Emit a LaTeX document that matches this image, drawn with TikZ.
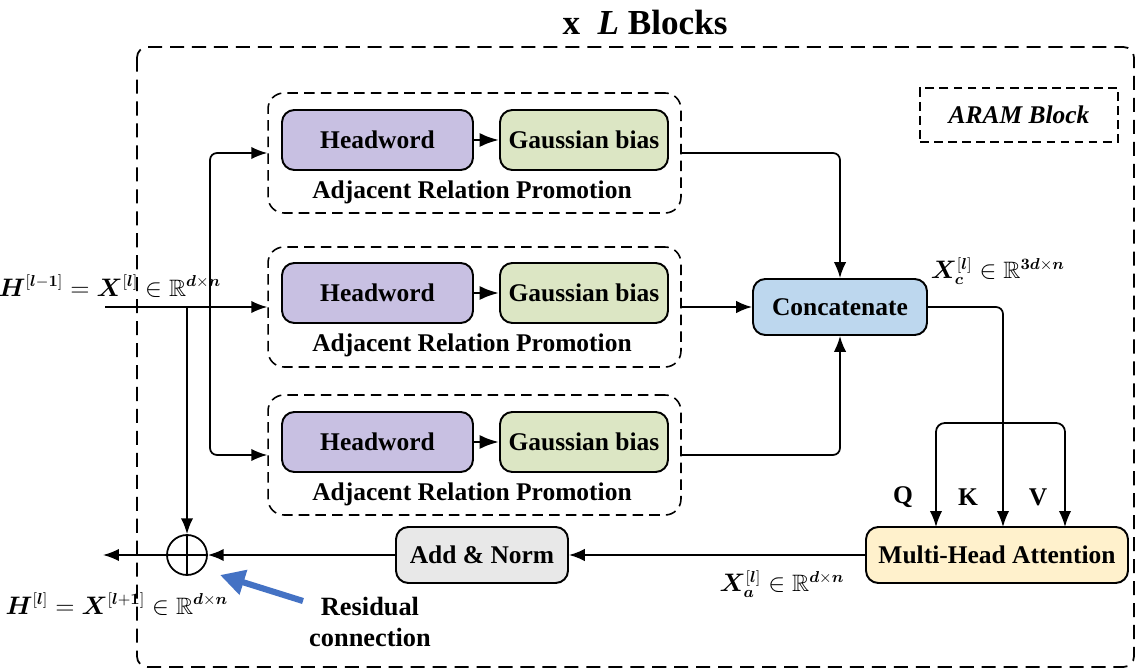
\documentclass[tikz,border=0pt]{standalone}
\usepackage{amsmath,amssymb,bm}
\usepackage{fontspec}
\setmainfont{Liberation Serif}
\usetikzlibrary{arrows.meta}

\definecolor{headcol}{RGB}{200,192,226}
\definecolor{gausscol}{RGB}{220,230,196}
\definecolor{catcol}{RGB}{189,215,238}
\definecolor{mhacol}{RGB}{255,241,204}
\definecolor{addcol}{RGB}{232,232,232}
\definecolor{rescol}{RGB}{68,114,196}

\tikzset{
  box/.style={draw, line width=1.1pt, rounded corners=7pt, align=center,
    minimum height=1.2cm, font=\fontsize{14.5}{17}\selectfont\bfseries},
  arpbox/.style={draw, dashed, dash pattern=on 6pt off 3.5pt, line width=0.9pt,
    rounded corners=9pt, minimum width=8.26cm, minimum height=2.4cm},
  lbl/.style={font=\fontsize{14.5}{17}\selectfont\bfseries},
  mlbl/.style={font=\fontsize{13.5}{15}\selectfont},
  arr/.style={-{Latex[length=9pt,width=7pt]}, line width=1pt},
  wire/.style={line width=1pt}
}

\begin{document}
\begin{tikzpicture}[x=0.02cm, y=-0.02cm]

\useasboundingbox (0,0) rectangle (1137,672);

% Outer frame and title
\draw[dashed, dash pattern=on 8pt off 4.5pt, line width=1pt, rounded corners=6pt]
  (137,47) rectangle (1134,667);
\node[font=\fontsize{20}{24}\selectfont\bfseries] (title) at (645,22) {x\ \ \textit{L} Blocks};
\node[draw, dashed, dash pattern=on 5pt off 3pt, line width=1pt, minimum width=3.96cm,
  minimum height=1.08cm, font=\fontsize{14.5}{17}\selectfont\bfseries\itshape]
  (aram) at (1019,115) {ARAM Block};

%========================
% Adjacent Relation Promotion 1
%========================
\node[arpbox] (arp1) at (474.5,153) {};
\node[box, fill=headcol, minimum width=3.82cm] (head1) at (377.5,140) {Headword};
\node[box, fill=gausscol, minimum width=3.36cm] (gauss1) at (584,140) {Gaussian bias};
\node[lbl] (lab1) at (472,192) {Adjacent Relation Promotion};
\draw[-{Latex[length=11pt,width=8pt]}, line width=1.6pt] (head1)--(gauss1);

%========================
% Adjacent Relation Promotion 2
%========================
\node[arpbox] (arp2) at (474.5,307) {};
\node[box, fill=headcol, minimum width=3.82cm] (head2) at (377.5,293) {Headword};
\node[box, fill=gausscol, minimum width=3.36cm] (gauss2) at (584,293) {Gaussian bias};
\node[lbl] (lab2) at (472,345) {Adjacent Relation Promotion};
\draw[-{Latex[length=11pt,width=8pt]}, line width=1.6pt] (head2)--(gauss2);

%========================
% Adjacent Relation Promotion 3
%========================
\node[arpbox] (arp3) at (474.5,455) {};
\node[box, fill=headcol, minimum width=3.82cm] (head3) at (377.5,442) {Headword};
\node[box, fill=gausscol, minimum width=3.36cm] (gauss3) at (584,442) {Gaussian bias};
\node[lbl] (lab3) at (472,494) {Adjacent Relation Promotion};
\draw[-{Latex[length=11pt,width=8pt]}, line width=1.6pt] (head3)--(gauss3);

%========================
% Concatenate and attention
%========================
\node[box, fill=catcol, minimum width=3.48cm, minimum height=1.12cm] (cat) at (840,307) {Concatenate};
\node[box, fill=mhacol, minimum width=5.24cm, minimum height=1.12cm] (mha) at (997,555) {Multi-Head Attention};
\node[box, fill=addcol, minimum width=3.44cm, minimum height=1.12cm] (add) at (482,555) {Add \& Norm};
\node[draw, circle, line width=1pt, minimum size=0.8cm, inner sep=0pt,
  path picture={\draw[line width=1pt] (path picture bounding box.north) -- (path picture bounding box.south)
    (path picture bounding box.west) -- (path picture bounding box.east);}] (plus) at (187,555) {};

% QKV inputs
\coordinate (qin) at (936,527);
\coordinate (kin) at (1003,527);
\coordinate (vin) at (1065,527);
\coordinate (split) at (1003,423);
\node[lbl] (q) at (903,497) {Q};
\node[lbl] (k) at (968,497) {K};
\node[lbl] (v) at (1038,497) {V};

% Input and output
\coordinate (in) at (105,307);
\coordinate (j1) at (187,307);
\coordinate (j2) at (210,307);
\coordinate (out) at (103,555);

% Math labels
\node[mlbl] (hin) at (110,286) {$\bm{H}^{[\bm{l}-\bm{1}]}=\bm{X}^{[\bm{l}]}\in\mathbb{R}^{\bm{d}\times\bm{n}}$};
\node[mlbl] (hout) at (117,604) {$\bm{H}^{[\bm{l}]}=\bm{X}^{[\bm{l}+\bm{1}]}\in\mathbb{R}^{\bm{d}\times\bm{n}}$};
\node[mlbl] (xc) at (998,271) {$\bm{X}_{\bm{c}}^{[\bm{l}]}\in\mathbb{R}^{\bm{3d}\times\bm{n}}$};
\node[mlbl] (xa) at (782,584) {$\bm{X}_{\bm{a}}^{[\bm{l}]}\in\mathbb{R}^{\bm{d}\times\bm{n}}$};

% Residual note
\node[align=center, font=\fontsize{15}{17.5}\selectfont\bfseries] (res) at (370,622) {Residual\\connection};
\coordinate (restip) at (220,575);
\draw[-{Triangle[length=14pt,width=14pt]}, line width=3.5pt, draw=rescol, fill=rescol]
  (303,601) -- (restip);

% Edges
\draw[wire] (in)--(j2);
\draw[arr] (j2)--(arp2.west);
\draw[arr, rounded corners=4pt] (j2) |- (arp1.west);
\draw[arr, rounded corners=4pt] (j2) |- (arp3.west);
\draw[arr] (j1)--(plus.north);
\draw[arr, rounded corners=4pt] (arp1.east) -| (cat.north);
\draw[arr] (arp2.east)--(cat.west);
\draw[arr, rounded corners=4pt] (arp3.east) -| (cat.south);
\draw[arr, rounded corners=4pt] (cat.east) -| (kin);
\draw[arr, rounded corners=5pt] (split) -| (qin);
\draw[arr, rounded corners=5pt] (split) -| (vin);
\draw[arr] (mha.west)--(add.east);
\draw[arr] (add.west)--(plus.east);
\draw[arr] (plus.west)--(out);

\end{tikzpicture}
\end{document}
